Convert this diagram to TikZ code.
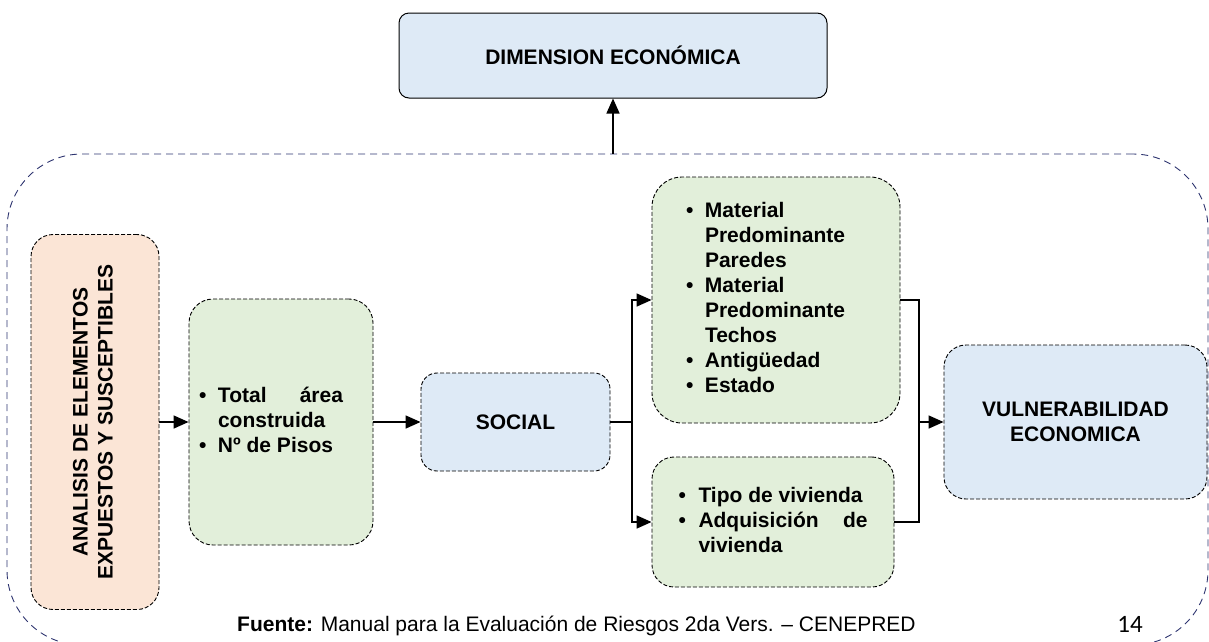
\documentclass[tikz,border=0pt]{standalone}
\usepackage{fontspec}
\setmainfont{Liberation Sans}
\newfontfamily\calib{Carlito}
\usetikzlibrary{arrows.meta}
\definecolor{bluef}{HTML}{DEEAF6}
\definecolor{greenf}{HTML}{E2EFDA}
\definecolor{orangef}{HTML}{FBE5D6}
\definecolor{framec}{HTML}{2E3570}
\newcommand\bl{\textbullet}
\begin{document}
\begin{tikzpicture}[x=1pt,y=-1pt,
  txt/.style={font=\fontsize{21}{25}\selectfont\bfseries, align=center, inner sep=0pt},
  dbox/.style={txt, draw=black, line width=0.9pt, dash pattern=on 4pt off 2pt},
  dimbox/.style={txt, draw=black, line width=1pt, fill=bluef, rounded corners=10pt},
  framebox/.style={draw=framec, line width=0.9pt, dash pattern=on 7pt off 5pt, rounded corners=75pt, inner sep=0pt},
  lnk/.style={draw=black, line width=1.5pt},
  arr/.style={lnk, -{Triangle[length=15pt,width=13pt]}},
]
\useasboundingbox (0,0) rectangle (1209,641);

\node[framebox, minimum width=1201pt, minimum height=491pt] (frame) at (607.5,399.5) {};

\node[dimbox, minimum width=428pt, minimum height=85pt] (dim) at (613,55.5) {DIMENSION ECONÓMICA};

\node[dbox, fill=orangef, rounded corners=22pt, minimum width=128pt, minimum height=375pt] (ana) at (95,422)
  {\rotatebox{90}{\begin{tabular}{@{}c@{}}ANALISIS DE ELEMENTOS\\EXPUESTOS Y SUSCEPTIBLES\end{tabular}}};

\node[dbox, fill=greenf, rounded corners=24pt, minimum width=184pt, minimum height=246pt] (g1) at (281,422)
  {\begin{tabular}{@{}p{19pt}@{}p{125pt}@{\hspace{20pt}}}
   \bl & \makebox[125pt]{Total\hfill área}\\
       & construida\\
   \bl & Nº de Pisos
   \end{tabular}};

\node[dbox, fill=bluef, rounded corners=16pt, minimum width=189pt, minimum height=98pt] (soc) at (515.5,422) {SOCIAL};

\node[dbox, fill=greenf, rounded corners=30pt, minimum width=248pt, minimum height=246pt] (mat) at (776,300)
  {\begin{tabular}{@{}p{19pt}@{}p{161pt}@{}}
   \bl & Material\\
       & Predominante\\
       & Paredes\\
   \bl & Material\\
       & Predominante\\
       & Techos\\
   \bl & Antigüedad\\
   \bl & Estado
   \end{tabular}};

\node[dbox, fill=greenf, rounded corners=22pt, minimum width=242pt, minimum height=130pt] (tipo) at (773,522)
  {\begin{tabular}{@{}p{20pt}@{}p{169pt}@{}}
   \bl & Tipo de vivienda\\
   \bl & \makebox[169pt]{Adquisición\hfill de}\\
       & vivienda
   \end{tabular}};

\node[dbox, fill=bluef, rounded corners=22pt, minimum width=263pt, minimum height=154pt] (vul) at (1075.5,422)
  {VULNERABILIDAD\\ECONOMICA};

\coordinate (br) at (632,422);
\coordinate (mg) at (919,422);

\draw[arr] (frame.north -| dim.south) -- (dim.south);
\draw[arr] (ana) -- (g1);
\draw[arr] (g1) -- (soc);
\draw[lnk] (soc.east) -- (br);
\draw[arr] (br) |- (mat.west);
\draw[arr] (br) |- (tipo.west);
\draw[lnk] (mat.east) -| (mg);
\draw[lnk] (tipo.east) -| (mg);
\draw[arr] (mg) -- (vul.west);

\node[anchor=west, inner sep=0pt, font=\fontsize{21}{25}\selectfont] (src) at (237,626)
  {\textbf{Fuente:} Manual para la Evaluación de Riesgos 2da Vers. – CENEPRED};
\node[anchor=base, inner sep=0pt, font=\calib\fontsize{25}{30}\selectfont] (pg) at (1130,632) {14};
\end{tikzpicture}
\end{document}
